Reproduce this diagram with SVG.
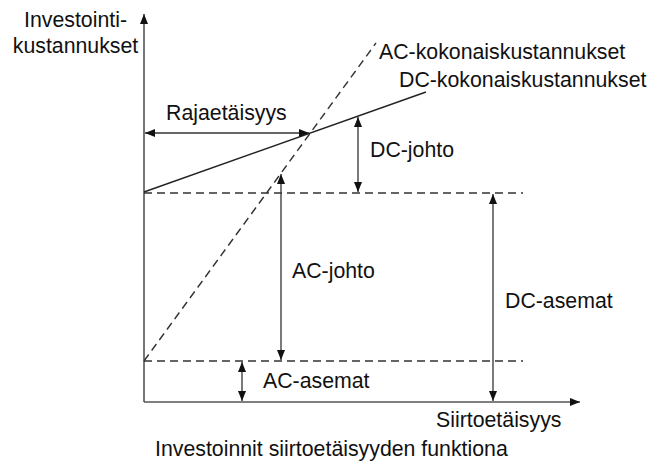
<svg xmlns="http://www.w3.org/2000/svg" width="652" height="466" viewBox="0 0 652 466">
<style>
text{font-family:"Liberation Sans",Arial,sans-serif;font-size:21.3px;fill:#111}
.axis{stroke:#555;stroke-width:1.6;fill:none}
.ln{stroke:#222;stroke-width:1.4;fill:none}
.dash{stroke:#333;stroke-width:1.4;fill:none;stroke-dasharray:8 5}
.dim{stroke:#333;stroke-width:1.3;fill:none}
</style>
<defs>
<marker id="ah" viewBox="0 0 10 8" refX="10" refY="4" markerWidth="10" markerHeight="8" markerUnits="userSpaceOnUse" orient="auto-start-reverse">
<path d="M0,0 L10,4 L0,8 z" fill="#111"/>
</marker>
</defs>
<rect width="652" height="466" fill="#fff"/>
<g id="connectors">
<line class="axis" x1="144" y1="402" x2="144" y2="14" marker-end="url(#ah)"/>
<line class="axis" x1="144" y1="402" x2="580" y2="402" marker-end="url(#ah)"/>
<line class="dash" x1="144" y1="193" x2="523" y2="193"/>
<line class="dash" x1="144" y1="361" x2="523" y2="361"/>
<line class="dash" x1="144" y1="361" x2="376" y2="43"/>
<line class="ln" x1="144" y1="192" x2="426" y2="92"/>
<line class="dim" x1="145" y1="133" x2="309" y2="133" marker-start="url(#ah)" marker-end="url(#ah)"/>
<line class="dim" x1="358" y1="117" x2="358" y2="192" marker-start="url(#ah)" marker-end="url(#ah)"/>
<line class="dim" x1="281" y1="174" x2="281" y2="360" marker-start="url(#ah)" marker-end="url(#ah)"/>
<line class="dim" x1="242" y1="362" x2="242" y2="401" marker-start="url(#ah)" marker-end="url(#ah)"/>
<line class="dim" x1="493" y1="194" x2="493" y2="401" marker-start="url(#ah)" marker-end="url(#ah)"/>
</g>
<g id="y-label"><text x="75.5" y="27" text-anchor="middle">Investointi-</text><text x="75.5" y="53" text-anchor="middle">kustannukset</text></g>
<g id="ac-total"><text x="379" y="59">AC-kokonaiskustannukset</text></g>
<g id="dc-total"><text x="399" y="87">DC-kokonaiskustannukset</text></g>
<g id="rajaetaisyys"><text x="166" y="120">Rajaetäisyys</text></g>
<g id="dc-johto"><text x="370" y="157">DC-johto</text></g>
<g id="ac-johto"><text x="292" y="278">AC-johto</text></g>
<g id="dc-asemat"><text x="505" y="308">DC-asemat</text></g>
<g id="ac-asemat"><text x="263" y="388">AC-asemat</text></g>
<g id="x-label"><text x="436" y="427">Siirtoetäisyys</text></g>
<g id="caption"><text x="155" y="456">Investoinnit siirtoetäisyyden funktiona</text></g>
</svg>
